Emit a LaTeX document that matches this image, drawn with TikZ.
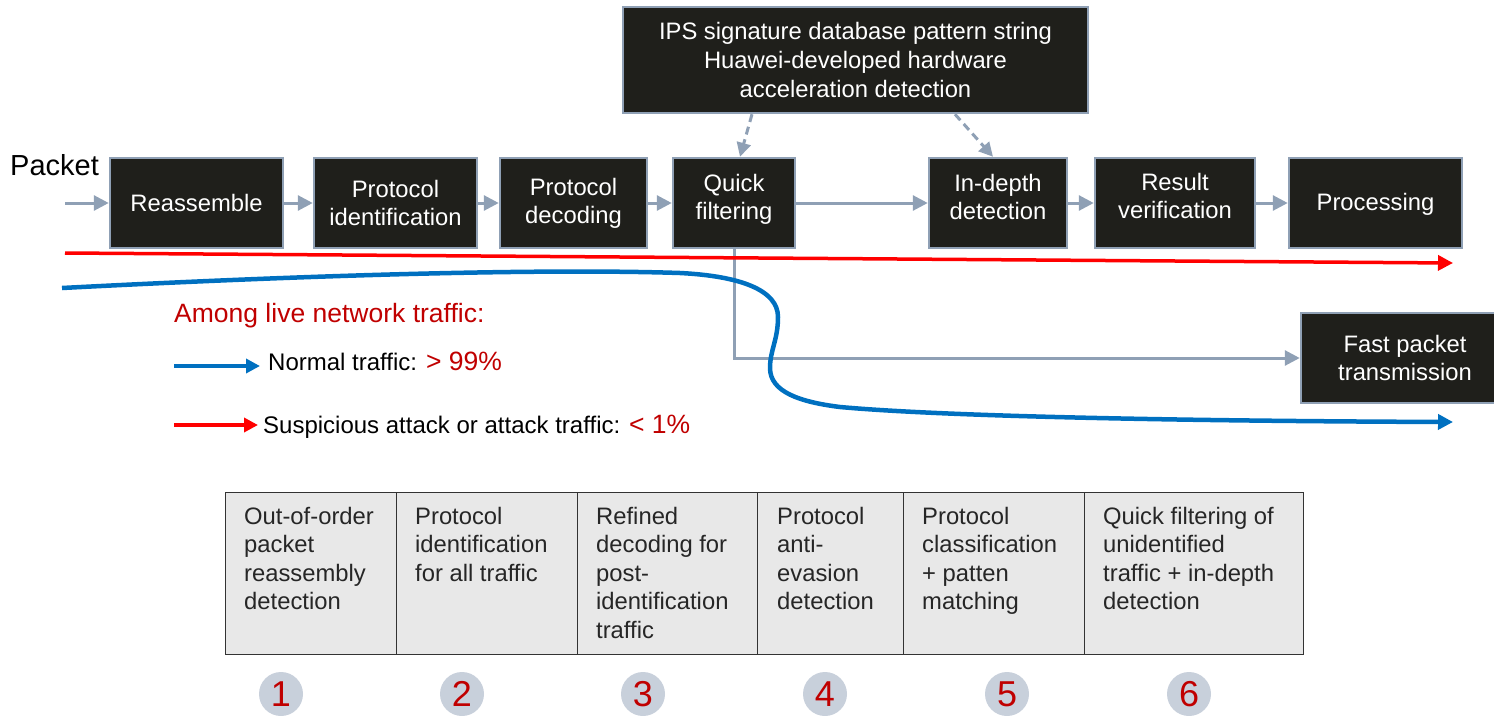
\documentclass[tikz,border=0pt]{standalone}
\usepackage{fontspec}
\setmainfont{Liberation Sans}
\usetikzlibrary{arrows.meta,calc}

\definecolor{boxfill}{RGB}{31,31,27}
\definecolor{edgegray}{RGB}{143,160,181}
\definecolor{flowblue}{RGB}{0,112,192}
\definecolor{flowred}{RGB}{255,0,0}
\definecolor{darkred}{RGB}{192,0,0}
\definecolor{cellfill}{RGB}{232,232,232}
\definecolor{cellline}{RGB}{51,51,51}
\definecolor{badgefill}{RGB}{200,208,219}
\definecolor{celltext}{RGB}{38,38,38}

\tikzset{
  stage/.style={draw=edgegray, line width=2.5pt, fill=boxfill, text=white,
    align=center, font=\fontsize{23.8}{28}\selectfont,
    minimum height=90pt, inner sep=0pt},
  flow/.style={draw=edgegray, line width=3pt, -{Triangle[length=15pt,width=15pt]}},
  hint/.style={draw=edgegray, line width=3pt, dash pattern=on 8pt off 5pt,
    -{Triangle[length=14pt,width=14pt]}},
  redflow/.style={draw=flowred, line width=3.5pt, -{Triangle[length=15pt,width=15pt]}},
  blueflow/.style={draw=flowblue, line width=4.5pt, -{Triangle[length=15pt,width=15pt]}},
  legred/.style={draw=flowred, line width=3.5pt, -{Triangle[length=14pt,width=14pt]}},
  legblue/.style={draw=flowblue, line width=3.5pt, -{Triangle[length=14pt,width=14pt]}},
  cellbox/.style={draw=cellline, line width=1.2pt, fill=cellfill, anchor=north west,
    minimum height=162pt, inner sep=0pt},
  celltxt/.style={anchor=north west, align=left, text=celltext,
    font=\fontsize{23.8}{28.5}\selectfont, inner sep=0pt},
  badge/.style={circle, fill=badgefill, minimum size=44pt, inner sep=0pt,
    text=darkred, font=\fontsize{36}{36}\selectfont},
  legtxt/.style={anchor=base west, inner sep=0pt, font=\fontsize{24}{28}\selectfont},
}

\begin{document}
\begin{tikzpicture}[x=1pt,y=-1pt]
\useasboundingbox (0,0) rectangle (1494,715);
\clip (0,0) rectangle (1494,715);

% signature database box
\node[stage, minimum width=465pt, minimum height=106pt, font=\fontsize{23.8}{29}\selectfont] (sig) at (855.5,60)
  {IPS signature database pattern string\\Huawei-developed hardware\\acceleration detection};

% processing pipeline
\node[anchor=base west, inner sep=0pt, font=\fontsize{29}{34}\selectfont] (pkt) at (10,175) {Packet};
\node[stage, minimum width=173pt] (reasm) at (196.5,203) {Reassemble};
\node[stage, minimum width=163pt] (protid) at (395.5,203) {Protocol\\identification};
\node[stage, minimum width=147pt] (protdec) at (573.5,203) {Protocol\\decoding};
\node[stage, minimum width=122pt, text depth=13pt] (quick) at (734,203) {Quick\\filtering};
\node[stage, minimum width=138pt, text depth=12pt] (deep) at (998,203) {In-depth\\detection};
\node[stage, minimum width=160pt, text depth=14pt] (verify) at (1175,203) {Result\\verification};
\node[stage, minimum width=173pt, text depth=3pt] (proc) at (1375.5,203) {Processing};
\node[stage, minimum width=208pt] (fast) at (1405,358) {Fast packet\\transmission};

\coordinate (pin) at (65,203);
\draw[flow] (pin) -- (reasm);
\draw[flow] (reasm) -- (protid);
\draw[flow] (protid) -- (protdec);
\draw[flow] (protdec) -- (quick);
\draw[flow] (quick) -- (deep);
\draw[flow] (deep) -- (verify);
\draw[flow] (verify) -- (proc);
\draw[flow] (quick.south) |- (fast.west);

\draw[hint] ([xshift=-103.5pt]sig.south) -- ([xshift=6pt]quick.north);
\draw[hint] ([xshift=99.5pt]sig.south) -- ([xshift=-5pt]deep.north);

% traffic paths
\coordinate (rs) at (65,253);
\coordinate (re) at (1453,263);
\draw[redflow] (rs) -- (re);

\coordinate (bs) at (62,288);
\coordinate (be) at (1453,422);
\draw[blueflow] (bs) .. controls (350,273) and (560,269) .. (680,273)
  .. controls (740,276) and (778,290) .. (778,317)
  .. controls (778,340) and (770,350) .. (770,368)
  .. controls (770,392) and (800,402) .. (840,407)
  .. controls (950,417) and (1200,421) .. (be);

% legend
\node[anchor=base west, inner sep=0pt, text=darkred, font=\fontsize{26.5}{30}\selectfont] (among)
  at (174,322) {Among live network traffic:};
\node[legtxt] (normal) at (268,370)
  {Normal traffic: \textcolor{darkred}{\fontsize{26.5}{30}\selectfont > 99\%}};
\node[legtxt] (susp) at (263,433)
  {Suspicious attack or attack traffic: \textcolor{darkred}{\fontsize{26.5}{30}\selectfont < 1\%}};
\coordinate (lb) at (174,366);
\coordinate (lr) at (174,425);
\draw[legblue] (lb) -- ([xshift=-8pt]lb -| normal.west);
\draw[legred] (lr) -- ([xshift=-5pt]lr -| susp.west);

% stage table
\node[cellbox, minimum width=171pt] (c1) at (225,492) {};
\node[cellbox, minimum width=181pt] (c2) at (396,492) {};
\node[cellbox, minimum width=180pt] (c3) at (577,492) {};
\node[cellbox, minimum width=146pt] (c4) at (757,492) {};
\node[cellbox, minimum width=181pt] (c5) at (903,492) {};
\node[cellbox, minimum width=219pt] (c6) at (1084,492) {};

\node[celltxt] (t1) at ($(c1.north west)+(19,15)$) {Out-of-order\\packet\\reassembly\\detection};
\node[celltxt] (t2) at ($(c2.north west)+(19,15)$) {Protocol\\identification\\for all traffic};
\node[celltxt] (t3) at ($(c3.north west)+(19,15)$) {Refined\\decoding for\\post-\\identification\\traffic};
\node[celltxt] (t4) at ($(c4.north west)+(20,15)$) {Protocol\\anti-\\evasion\\detection};
\node[celltxt] (t5) at ($(c5.north west)+(19,15)$) {Protocol\\classification\\+ patten\\matching};
\node[celltxt] (t6) at ($(c6.north west)+(19,15)$) {Quick filtering of\\unidentified\\traffic + in-depth\\detection};

% step numbers
\node[badge] (n1) at (281,694) {1};
\node[badge] (n2) at (462,694) {2};
\node[badge] (n3) at (643,694) {3};
\node[badge] (n4) at (825,694) {4};
\node[badge] (n5) at (1007,694) {5};
\node[badge] (n6) at (1189,694) {6};
\end{tikzpicture}
\end{document}
